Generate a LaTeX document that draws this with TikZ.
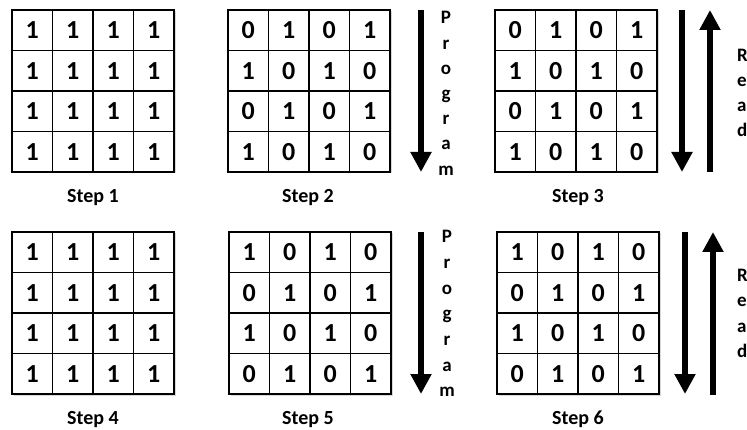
\documentclass[tikz,border=0pt]{standalone}
\usepackage{fontspec}
\setmainfont{Carlito}
\usetikzlibrary{arrows.meta,shadows}
\newcommand{\gridat}[4]{%
  \node[gridframe] (#1) at ({#2+81},{#3+81}) {};
  \foreach \row [count=\r] in {#4} {
    \foreach \v [count=\c] in \row {
      \node[cell] (#1-\r-\c) at ({#2+(\c-0.5)*40.5},{#3+(\r-0.5)*40.5}) {\v};
    }
  }
}
\begin{document}
\begin{tikzpicture}[x=1pt,y=-1pt,
  cell/.style={minimum size=40.5pt, inner sep=0pt, draw, line width=1.2pt,
    font=\fontsize{26}{26}\selectfont\bfseries},
  gridframe/.style={minimum size=162pt, inner sep=0pt, draw, line width=2pt, fill=white,
    drop shadow={opacity=0.3, shadow xshift=1.5pt, shadow yshift=-1.5pt}},
  steplabel/.style={anchor=base, font=\fontsize{20}{20}\selectfont\bfseries, inner sep=0pt},
  letter/.style={anchor=base, font=\fontsize{19}{19}\selectfont\bfseries, inner sep=0pt},
  rletter/.style={anchor=base west, font=\fontsize{19}{19}\selectfont\bfseries, inner sep=0pt},
  bigarrow/.style={line width=6pt, -{Triangle[width=20pt,length=20pt]}}
]
\useasboundingbox[fill=white] (0,0) rectangle (747,430);

% top row
\gridat{g1}{12}{10}{{1,1,1,1},{1,1,1,1},{1,1,1,1},{1,1,1,1}}
\gridat{g2}{228}{10}{{0,1,0,1},{1,0,1,0},{0,1,0,1},{1,0,1,0}}
\gridat{g3}{495}{10}{{0,1,0,1},{1,0,1,0},{0,1,0,1},{1,0,1,0}}
% bottom row
\gridat{g4}{12}{232}{{1,1,1,1},{1,1,1,1},{1,1,1,1},{1,1,1,1}}
\gridat{g5}{229}{232}{{1,0,1,0},{0,1,0,1},{1,0,1,0},{0,1,0,1}}
\gridat{g6}{497}{232}{{1,0,1,0},{0,1,0,1},{1,0,1,0},{0,1,0,1}}

% step labels
\node[steplabel] (s1) at (93,203) {Step 1};
\node[steplabel] (s2) at (308,203) {Step 2};
\node[steplabel] (s3) at (578,203) {Step 3};
\node[steplabel] (s4) at (93,424) {Step 4};
\node[steplabel] (s5) at (308,424) {Step 5};
\node[steplabel] (s6) at (578,424) {Step 6};

% arrows top
\coordinate (a2t) at (421,10);  \coordinate (a2b) at (421,172);
\draw[bigarrow] (a2t) -- (a2b);
\coordinate (a3t) at (682,10);  \coordinate (a3b) at (682,172);
\draw[bigarrow] (a3t) -- (a3b);
\coordinate (u3t) at (710,10);  \coordinate (u3b) at (710,172);
\draw[bigarrow] (u3b) -- (u3t);
% arrows bottom
\coordinate (a5t) at (421,232); \coordinate (a5b) at (421,394);
\draw[bigarrow] (a5t) -- (a5b);
\coordinate (a6t) at (685,232); \coordinate (a6b) at (685,394);
\draw[bigarrow] (a6t) -- (a6b);
\coordinate (u6t) at (713,232); \coordinate (u6b) at (713,395);
\draw[bigarrow] (u6b) -- (u6t);

% vertical words
\foreach \ch [count=\i] in {P,r,o,g,r,a,m} {
  \node[letter] (pa-\i) at (446,{24+(\i-1)*25.2}) {\ch};
  \node[letter] (pb-\i) at (447,{243+(\i-1)*25.6}) {\ch};
}
\foreach \ch [count=\i] in {R,e,a,d} {
  \node[rletter] (ra-\i) at (737,{62+(\i-1)*25}) {\ch};
  \node[rletter] (rb-\i) at (737,{282+(\i-1)*25}) {\ch};
}
\end{tikzpicture}
\end{document}
